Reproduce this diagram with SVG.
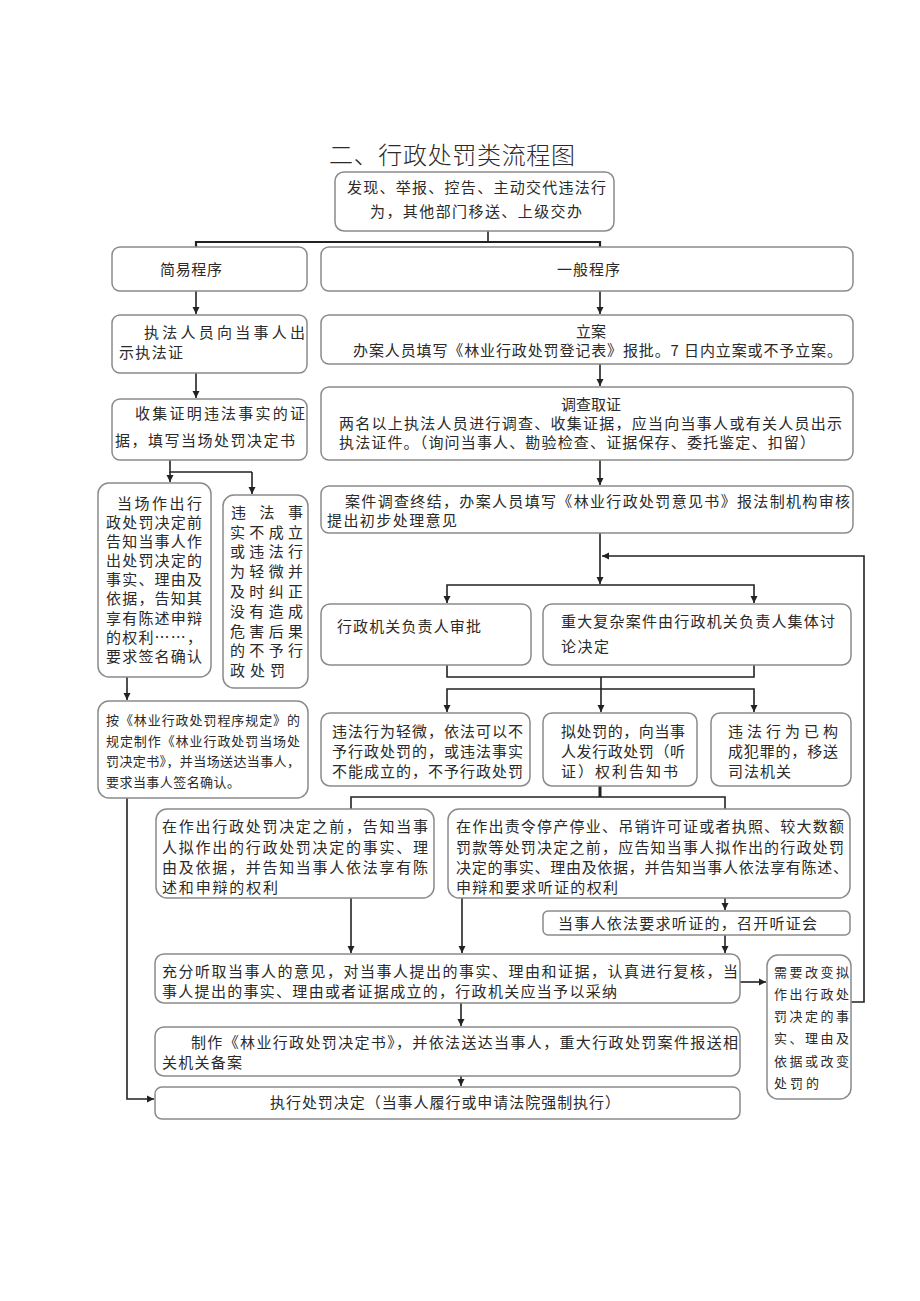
<svg xmlns="http://www.w3.org/2000/svg" width="920" height="1301" viewBox="0 0 920 1301">
<defs>
<marker id="ah" markerUnits="userSpaceOnUse" markerWidth="8" markerHeight="8" refX="7" refY="4" orient="auto">
<path d="M0,0.5 L7,4 L0,7.5 z" fill="#222"/>
</marker>
<style>
.box{fill:#fff;stroke:#8a8a8a;stroke-width:1.5}
.ln{fill:none;stroke:#222;stroke-width:1.6}
.ar{fill:none;stroke:#222;stroke-width:1.6;marker-end:url(#ah)}
text{font-family:"Noto Sans CJK SC","Noto Sans CJK TC",sans-serif;font-size:15px;fill:#2a2a2a}
.s13{font-size:13px}
.t{font-size:24px;font-weight:300}
</style>
</defs>
<rect width="920" height="1301" fill="#fff"/>
<text class="t" x="329" y="164" textLength="246" lengthAdjust="spacing">二、行政处罚类流程图</text>

<g id="connectors">
<path class="ln" d="M488,231 V242" stroke-width="2"/>
<path class="ln" d="M196,248 V242 H600 V248" style="stroke-width:2.2"/>
<path class="ar" d="M196,291 V314"/>
<path class="ar" d="M600,291 V314"/>
<path class="ar" d="M196,373 V398"/>
<path class="ar" d="M600,364 V386"/>
<path class="ar" d="M600,460 V485"/>
<path class="ln" d="M170,460 V472 H252"/>
<path class="ar" d="M170,472 V482"/>
<path class="ar" d="M252,472 V494"/>
<path class="ar" d="M127,677 V700"/>
<path class="ar" d="M127,798 V1099 H154"/>
<path class="ar" d="M600,533 V584"/>
<path class="ar" d="M601,585 H447 V603"/>
<path class="ar" d="M601,585 H754 V603"/>
<path class="ar" d="M851,1002 H864 V556 H602"/>
<path class="ln" d="M447,665 V677 H754 V665"/>
<path class="ln" d="M601,677 V689"/>
<path class="ar" d="M601,689 H447 V712"/>
<path class="ar" d="M601,689 H754 V712"/>
<path class="ar" d="M601,689 V712"/>
<path class="ln" d="M600,786 V797" style="stroke-width:3"/>
<path class="ln" d="M351,809 V797 H725 V809"/>
<path class="ar" d="M351,898 V953"/>
<path class="ar" d="M462,898 V953"/>
<path class="ar" d="M725,898 V910"/>
<path class="ar" d="M725,935 V953"/>
<path class="ar" d="M740,982 H766"/>
<path class="ar" d="M461,1003 V1026"/>
<path class="ar" d="M461,1076 V1086"/>
</g>

<g id="n-start">
<rect class="box" x="335" y="172" width="279" height="59" rx="9"/>
<text x="347" y="193" textLength="259" lengthAdjust="spacing">发现、举报、控告、主动交代违法行</text>
<text x="370" y="217" textLength="212" lengthAdjust="spacing">为，其他部门移送、上级交办</text>
</g>
<g id="n-simple">
<rect class="box" x="112" y="247" width="195" height="44" rx="8"/>
<text x="160" y="275" textLength="62" lengthAdjust="spacing">简易程序</text>
</g>
<g id="n-general">
<rect class="box" x="321" y="247" width="532" height="44" rx="8"/>
<text x="557" y="275" textLength="63" lengthAdjust="spacing">一般程序</text>
</g>
<g id="n-show">
<rect class="box" x="112" y="315" width="195" height="58" rx="8"/>
<text x="144" y="338" textLength="161" lengthAdjust="spacing">执法人员向当事人出</text>
<text x="119" y="358" textLength="64" lengthAdjust="spacing">示执法证</text>
</g>
<g id="n-file">
<rect class="box" x="321" y="315" width="532" height="49" rx="8"/>
<text x="591" y="337" text-anchor="middle">立案</text>
<text x="353" y="356" textLength="489" lengthAdjust="spacing">办案人员填写《林业行政处罚登记表》报批。7 日内立案或不予立案。</text>
</g>
<g id="n-collect">
<rect class="box" x="112" y="399" width="195" height="61" rx="8"/>
<text x="135" y="419" textLength="170" lengthAdjust="spacing">收集证明违法事实的证</text>
<text x="115" y="446" textLength="180" lengthAdjust="spacing">据，填写当场处罚决定书</text>
</g>
<g id="n-investigate">
<rect class="box" x="321" y="387" width="532" height="73" rx="8"/>
<text x="591" y="410" text-anchor="middle">调查取证</text>
<text x="339" y="429" textLength="503" lengthAdjust="spacing">两名以上执法人员进行调查、收集证据，应当向当事人或有关人员出示</text>
<text x="339" y="448" textLength="476" lengthAdjust="spacing">执法证件。（询问当事人、勘验检查、证据保存、委托鉴定、扣留）</text>
</g>
<g id="n-conclude">
<rect class="box" x="321" y="486" width="532" height="47" rx="8"/>
<text x="345" y="507" textLength="505" lengthAdjust="spacing">案件调查终结，办案人员填写《林业行政处罚意见书》报法制机构审核</text>
<text x="327" y="526" textLength="130" lengthAdjust="spacing">提出初步处理意见</text>
</g>
<g id="n-onsite">
<rect class="box" x="98" y="483" width="113" height="194" rx="11"/>
<text x="117" y="509" textLength="85" lengthAdjust="spacing">当场作出行</text>
<text x="106" y="528" textLength="96" lengthAdjust="spacing">政处罚决定前</text>
<text x="106" y="547" textLength="96" lengthAdjust="spacing">告知当事人作</text>
<text x="106" y="566" textLength="96" lengthAdjust="spacing">出处罚决定的</text>
<text x="106" y="585" textLength="96" lengthAdjust="spacing">事实、理由及</text>
<text x="106" y="604" textLength="96" lengthAdjust="spacing">依据，告知其</text>
<text x="106" y="624" textLength="96" lengthAdjust="spacing">享有陈述申辩</text>
<text x="106" y="643" textLength="96" lengthAdjust="spacing">的权利……，</text>
<text x="106" y="662" textLength="96" lengthAdjust="spacing">要求签名确认</text>
</g>
<g id="n-nopenalty">
<rect class="box" x="223" y="495" width="85" height="193" rx="11"/>
<text x="231" y="518" textLength="72" lengthAdjust="spacing">违法事</text>
<text x="230" y="538" textLength="73" lengthAdjust="spacing">实不成立</text>
<text x="230" y="557" textLength="73" lengthAdjust="spacing">或违法行</text>
<text x="230" y="577" textLength="73" lengthAdjust="spacing">为轻微并</text>
<text x="230" y="597" textLength="73" lengthAdjust="spacing">及时纠正</text>
<text x="230" y="617" textLength="73" lengthAdjust="spacing">没有造成</text>
<text x="230" y="637" textLength="73" lengthAdjust="spacing">危害后果</text>
<text x="230" y="656" textLength="73" lengthAdjust="spacing">的不予行</text>
<text x="230" y="676" textLength="55" lengthAdjust="spacing">政处罚</text>
</g>
<g id="n-onsite-doc">
<rect class="box" x="98" y="701" width="210" height="97" rx="11"/>
<text class="s13" x="106" y="725" textLength="194" lengthAdjust="spacing">按《林业行政处罚程序规定》的</text>
<text class="s13" x="106" y="746" textLength="194" lengthAdjust="spacing">规定制作《林业行政处罚当场处</text>
<text class="s13" x="106" y="766" textLength="194" lengthAdjust="spacing">罚决定书》，并当场送达当事人，</text>
<text class="s13" x="106" y="787" textLength="134" lengthAdjust="spacing">要求当事人签名确认。</text>
</g>
<g id="n-approve">
<rect class="box" x="321" y="604" width="210" height="61" rx="9"/>
<text x="337" y="632" textLength="144" lengthAdjust="spacing">行政机关负责人审批</text>
</g>
<g id="n-collective">
<rect class="box" x="543" y="604" width="308" height="61" rx="9"/>
<text x="561" y="627" textLength="274" lengthAdjust="spacing">重大复杂案件由行政机关负责人集体讨</text>
<text x="561" y="652" textLength="48" lengthAdjust="spacing">论决定</text>
</g>
<g id="n-minor">
<rect class="box" x="321" y="713" width="209" height="73" rx="9"/>
<text x="332" y="737" textLength="191" lengthAdjust="spacing">违法行为轻微，依法可以不</text>
<text x="332" y="757" textLength="191" lengthAdjust="spacing">予行政处罚的，或违法事实</text>
<text x="332" y="777" textLength="191" lengthAdjust="spacing">不能成立的，不予行政处罚</text>
</g>
<g id="n-notice">
<rect class="box" x="543" y="713" width="154" height="73" rx="9"/>
<text x="561" y="737" textLength="124" lengthAdjust="spacing">拟处罚的，向当事</text>
<text x="561" y="757" textLength="124" lengthAdjust="spacing">人发行政处罚（听</text>
<text x="561" y="777" textLength="117" lengthAdjust="spacing">证）权利告知书</text>
</g>
<g id="n-crime">
<rect class="box" x="711" y="713" width="140" height="73" rx="9"/>
<text x="728" y="737" textLength="110" lengthAdjust="spacing">违法行为已构</text>
<text x="728" y="757" textLength="110" lengthAdjust="spacing">成犯罪的，移送</text>
<text x="728" y="777" textLength="63" lengthAdjust="spacing">司法机关</text>
</g>
<g id="n-inform">
<rect class="box" x="156" y="809" width="278" height="89" rx="11"/>
<text x="162" y="832" textLength="266" lengthAdjust="spacing">在作出行政处罚决定之前，告知当事</text>
<text x="162" y="853" textLength="266" lengthAdjust="spacing">人拟作出的行政处罚决定的事实、理</text>
<text x="162" y="873" textLength="266" lengthAdjust="spacing">由及依据，并告知当事人依法享有陈</text>
<text x="162" y="893" textLength="116" lengthAdjust="spacing">述和申辩的权利</text>
</g>
<g id="n-inform-hearing">
<rect class="box" x="448" y="809" width="402" height="89" rx="11"/>
<text x="456" y="832" textLength="388" lengthAdjust="spacing">在作出责令停产停业、吊销许可证或者执照、较大数额</text>
<text x="456" y="853" textLength="388" lengthAdjust="spacing">罚款等处罚决定之前，应告知当事人拟作出的行政处罚</text>
<text x="456" y="873" textLength="392" lengthAdjust="spacing">决定的事实、理由及依据，并告知当事人依法享有陈述、</text>
<text x="456" y="893" textLength="162" lengthAdjust="spacing">申辩和要求听证的权利</text>
</g>
<g id="n-hearing">
<rect class="box" x="543" y="911" width="307" height="24" rx="5"/>
<text x="558" y="929" textLength="259" lengthAdjust="spacing">当事人依法要求听证的，召开听证会</text>
</g>
<g id="n-review">
<rect class="box" x="155" y="954" width="585" height="49" rx="9"/>
<text x="162" y="977" textLength="576" lengthAdjust="spacing">充分听取当事人的意见，对当事人提出的事实、理由和证据，认真进行复核，当</text>
<text x="162" y="997" textLength="455" lengthAdjust="spacing">事人提出的事实、理由或者证据成立的，行政机关应当予以采纳</text>
</g>
<g id="n-change">
<rect class="box" x="767" y="955" width="84" height="144" rx="11"/>
<text class="s13" x="774" y="977" textLength="75" lengthAdjust="spacing">需要改变拟</text>
<text class="s13" x="774" y="999" textLength="75" lengthAdjust="spacing">作出行政处</text>
<text class="s13" x="774" y="1021" textLength="75" lengthAdjust="spacing">罚决定的事</text>
<text class="s13" x="774" y="1043" textLength="75" lengthAdjust="spacing">实、理由及</text>
<text class="s13" x="774" y="1066" textLength="75" lengthAdjust="spacing">依据或改变</text>
<text class="s13" x="774" y="1088" textLength="45" lengthAdjust="spacing">处罚的</text>
</g>
<g id="n-decision">
<rect class="box" x="155" y="1027" width="585" height="49" rx="9"/>
<text x="191" y="1048" textLength="547" lengthAdjust="spacing">制作《林业行政处罚决定书》，并依法送达当事人，重大行政处罚案件报送相</text>
<text x="162" y="1068" textLength="80" lengthAdjust="spacing">关机关备案</text>
</g>
<g id="n-execute">
<rect class="box" x="155" y="1087" width="585" height="32" rx="7"/>
<text x="270" y="1108" textLength="350" lengthAdjust="spacing">执行处罚决定（当事人履行或申请法院强制执行）</text>
</g>
</svg>
